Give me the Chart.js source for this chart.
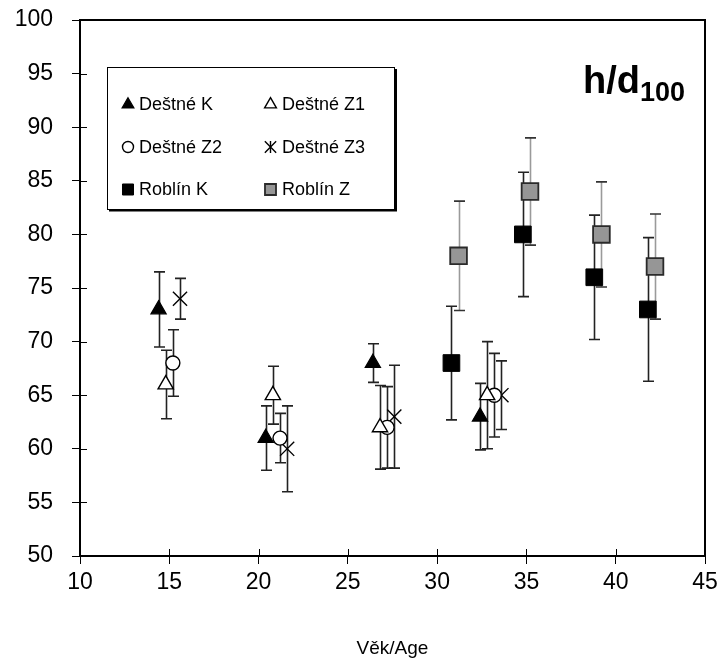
<!DOCTYPE html>
<html>
<head>
<meta charset="utf-8">
<script src="https://cdn.jsdelivr.net/npm/chart.js@4.4.1/dist/chart.umd.min.js"></script>
<style>
  body { margin: 0; background: #fff; }
  canvas { display: block; }
</style>
</head>
<body>
<canvas id="hdChart" width="724" height="658"></canvas>
<script>
// ===== DATA =====
var seriesNames = ['Deštné K', 'Deštné Z1', 'Deštné Z2', 'Deštné Z3', 'Roblín K', 'Roblín Z'];

var ageDK  = [14.4, 20.4, 26.4, 32.4];
var hdDK   = [73, 61, 68, 63];
var errDK  = [3.5, 3.0, 1.8, 3.1];

var ageDZ1 = [14.8, 20.8, 26.8, 32.8];
var hdDZ1  = [66, 65, 62, 65];
var errDZ1 = [3.2, 2.7, 3.9, 5.0];

var ageDZ2 = [15.2, 21.2, 27.2, 33.2];
var hdDZ2  = [68, 61, 62, 65];
var errDZ2 = [3.1, 2.3, 3.8, 3.9];

var ageDZ3 = [15.6, 21.6, 27.6, 33.6];
var hdDZ3  = [74, 60, 63, 65];
var errDZ3 = [1.9, 4.0, 4.8, 3.2];

var ageRK  = [30.8, 34.8, 38.8, 41.8];
var hdRK   = [68, 80, 76, 73];
var errRK  = [5.3, 5.8, 5.8, 6.7];

var ageRZ  = [31.2, 35.2, 39.2, 42.2];
var hdRZ   = [78, 84, 80, 77];
var errRZ  = [5.1, 5.0, 4.9, 4.9];

var xTicks = [10, 15, 20, 25, 30, 35, 40, 45];
var yTicks = [50, 55, 60, 65, 70, 75, 80, 85, 90, 95, 100];

var FONT = "'Liberation Sans', Arial, sans-serif";

function points(ages, vals, errs) {
    return ages.map(function(a, i) { return { x: a, y: vals[i], e: errs[i] }; });
}

// ===== ERROR BARS, FRAME, INNER TICKS =====
var errorBars = {
    id: 'errorBars',
    beforeDatasetsDraw: function(chart) {
        var ctx = chart.ctx, a = chart.chartArea;
        var xs = chart.scales.x, ys = chart.scales.y;
        ctx.save();
        // frame
        ctx.strokeStyle = '#000';
        ctx.lineWidth = 2;
        ctx.strokeRect(a.left, a.top, a.right - a.left, a.bottom - a.top);
        // inner parts of the crossing ticks
        ctx.lineWidth = 1;
        ctx.beginPath();
        yTicks.forEach(function(v) {
            var py = Math.round(ys.getPixelForValue(v)) + 0.5;
            ctx.moveTo(a.left, py); ctx.lineTo(a.left + 7, py);
        });
        xTicks.forEach(function(v) {
            var px = Math.round(xs.getPixelForValue(v)) + 0.5;
            ctx.moveTo(px, a.bottom); ctx.lineTo(px, a.bottom - 7);
        });
        ctx.stroke();
        // error bars
        chart.data.datasets.forEach(function(ds) {
            ds.data.forEach(function(p) {
                var px = Math.round(xs.getPixelForValue(p.x)) + 0.5;
                var top = ys.getPixelForValue(p.y + p.e);
                var bot = ys.getPixelForValue(p.y - p.e);
                ctx.lineWidth = 1.6;
                ctx.strokeStyle = ds.barColor;
                ctx.beginPath();
                ctx.moveTo(px, top); ctx.lineTo(px, bot);
                ctx.stroke();
                ctx.strokeStyle = ds.capColor;
                ctx.beginPath();
                ctx.moveTo(px - 5.5, top); ctx.lineTo(px + 5.5, top);
                ctx.moveTo(px - 5.5, bot); ctx.lineTo(px + 5.5, bot);
                ctx.stroke();
            });
        });
        ctx.restore();
    }
};

// ===== LEGEND BOX AND TITLE =====
function legendMarker(ctx, ds, x, y) {
    ctx.save();
    ctx.fillStyle = ds.pointBackgroundColor;
    ctx.strokeStyle = ds.pointBorderColor;
    ctx.lineWidth = ds.pointBorderWidth;
    Chart.helpers.drawPoint(ctx, {
        pointStyle: ds.pointStyle,
        radius: ds.legendRadius,
        rotation: 0,
        borderWidth: ds.pointBorderWidth
    }, x, y);
    if (ds.pointStyle === 'crossRot') {
        ctx.beginPath();
        ctx.moveTo(x, y - ds.legendRadius * 0.75);
        ctx.lineTo(x, y + ds.legendRadius * 0.75);
        ctx.stroke();
    }
    ctx.restore();
}

var boxAndTitle = {
    id: 'boxAndTitle',
    afterDraw: function(chart) {
        var ctx = chart.ctx;
        ctx.save();
        // legend box
        ctx.fillStyle = '#fff';
        ctx.fillRect(107, 67, 288, 143);
        ctx.strokeStyle = '#000';
        ctx.lineWidth = 1;
        ctx.strokeRect(107.5, 67.5, 287, 142);
        ctx.lineWidth = 2;
        ctx.beginPath();
        ctx.moveTo(109, 210.5); ctx.lineTo(396, 210.5); ctx.lineTo(396, 69);
        ctx.stroke();

        var colMark = [128, 270.5], colText = [139, 282], rows = [104.5, 147, 189.5];
        ctx.font = '18px ' + FONT;
        ctx.textBaseline = 'middle';
        ctx.fillStyle = '#000';
        chart.data.datasets.forEach(function(ds, i) {
            var c = i % 2, r = Math.floor(i / 2);
            legendMarker(ctx, ds, colMark[c], rows[r]);
            ctx.fillStyle = '#000';
            ctx.textAlign = 'left';
            ctx.fillText(ds.label, colText[c], rows[r] + 1);
        });

        // h/d100 title
        ctx.textBaseline = 'alphabetic';
        ctx.font = 'bold 38px ' + FONT;
        ctx.fillText('h/d', 583, 93);
        var w = ctx.measureText('h/d').width;
        ctx.font = 'bold 27px ' + FONT;
        ctx.fillText('100', 583 + w, 101);
        ctx.restore();
    }
};

// ===== CHART =====
function makeSet(label, data, style, radius, fill, border, bw, barColor, capColor, legendRadius) {
    return {
        label: label,
        data: data,
        pointStyle: style,
        pointRadius: radius,
        pointHoverRadius: radius,
        pointBackgroundColor: fill,
        pointBorderColor: border,
        pointBorderWidth: bw,
        showLine: false,
        barColor: barColor,
        capColor: capColor,
        legendRadius: legendRadius
    };
}

new Chart(document.getElementById('hdChart'), {
    type: 'scatter',
    data: {
        datasets: [
            makeSet(seriesNames[0], points(ageDK, hdDK, errDK), 'triangle', 8.8, '#000', '#000', 1.2, '#222', '#222', 6.8),
            makeSet(seriesNames[1], points(ageDZ1, hdDZ1, errDZ1), 'triangle', 8.8, '#fff', '#000', 1.4, '#222', '#222', 6.8),
            makeSet(seriesNames[2], points(ageDZ2, hdDZ2, errDZ2), 'circle', 7, '#fff', '#000', 1.4, '#222', '#222', 5.5),
            makeSet(seriesNames[3], points(ageDZ3, hdDZ3, errDZ3), 'crossRot', 10, '#000', '#000', 1.4, '#222', '#222', 8),
            makeSet(seriesNames[4], points(ageRK, hdRK, errRK), 'rect', 11.8, '#000', '#000', 1, '#222', '#222', 7.8),
            makeSet(seriesNames[5], points(ageRZ, hdRZ, errRZ), 'rect', 11.8, '#969696', '#2a2a2a', 1.8, '#9a9a9a', '#333', 7.8)
        ]
    },
    options: {
        responsive: false,
        animation: false,
        events: [],
        layout: { padding: { top: 20, right: 19, left: 0, bottom: 0 } },
        plugins: {
            legend: { display: false },
            tooltip: { enabled: false }
        },
        scales: {
            x: {
                type: 'linear',
                min: 10,
                max: 45,
                afterFit: function(s) { s.height = 102; s.paddingLeft = 0; s.paddingRight = 0; },
                afterBuildTicks: function(s) { s.ticks = xTicks.map(function(v) { return { value: v }; }); },
                grid: { drawOnChartArea: false, drawTicks: true, tickLength: 8, color: '#000', lineWidth: 1 },
                border: { display: false },
                ticks: { color: '#000', padding: 5, font: { family: FONT, size: 23 }, maxRotation: 0 },
                title: { display: true, text: 'Věk/Age', color: '#000', font: { family: FONT, size: 19, lineHeight: 1 }, padding: { top: 0, bottom: 0 } }
            },
            y: {
                type: 'linear',
                min: 50,
                max: 100,
                afterFit: function(s) { s.width = 80; s.paddingTop = 0; s.paddingBottom = 0; },
                afterBuildTicks: function(s) { s.ticks = yTicks.map(function(v) { return { value: v }; }); },
                grid: { drawOnChartArea: false, drawTicks: true, tickLength: 8, color: '#000', lineWidth: 1 },
                border: { display: false },
                ticks: { color: '#000', padding: 19, font: { family: FONT, size: 23 } }
            }
        }
    },
    plugins: [errorBars, boxAndTitle]
});
</script>
</body>
</html>
